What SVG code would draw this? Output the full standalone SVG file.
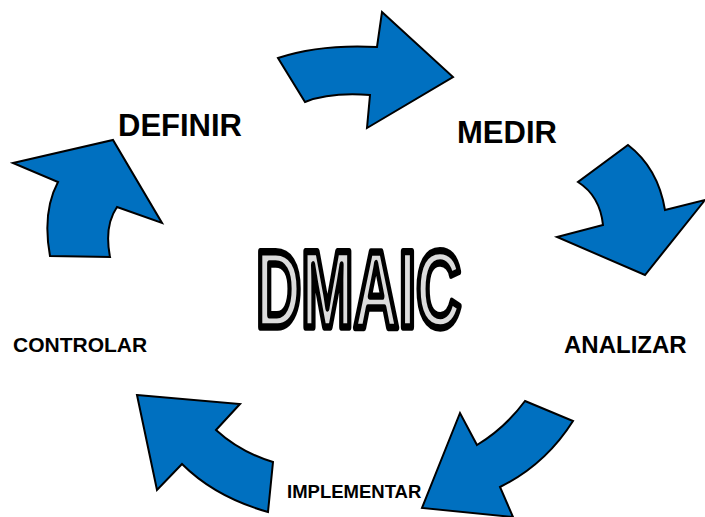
<svg xmlns="http://www.w3.org/2000/svg" width="705" height="517" viewBox="0 0 705 517">
<style>
.arrow{fill:#0070C0;stroke:#000;stroke-width:2;stroke-linejoin:miter}
.lbl{font-family:"Liberation Sans",Arial,sans-serif;font-weight:bold;fill:#000}
.title{font-family:"Liberation Sans",Arial,sans-serif;font-weight:bold;fill:#DCDCDC;stroke:#000;stroke-width:6;stroke-linejoin:round}
</style>
<rect width="705" height="517" fill="#fff"/>
<g id="connectors">
<path id="arrow-medir" class="arrow" d="M278,58 Q320,44 377,47 L382,12 L453,77 L367,128 L370,95 Q330,92 305,102 Z"/>
<path id="arrow-analizar" class="arrow" d="M628,145 Q658,168 665,210 L705,200 L645,275 L557,237 L603,225 Q600,196 578,182 Z"/>
<path id="arrow-implementar" class="arrow" d="M525,401 L573,421 Q545,465 500,487 L513,517 L422,508 L460,413 L477,445 Q505,428 525,401 Z"/>
<path id="arrow-controlar" class="arrow" d="M137,395 L240,404 L216,430 Q240,452 273,462 L268,512 Q215,497 182,464 L157,490 Z"/>
<path id="arrow-definir" class="arrow" d="M13,163 L113,140 L162,223 L117,207 Q104,226 110,257 L50,256 Q42,212 58,182 Z"/>
</g>
<g id="title"><text class="title" transform="translate(256,327) scale(0.575,1)" x="0" y="0" font-size="109" vector-effect="non-scaling-stroke">DMAIC</text></g>
<g id="definir"><text class="lbl" x="118" y="136" font-size="31">DEFINIR</text></g>
<g id="medir"><text class="lbl" x="457" y="143" font-size="31">MEDIR</text></g>
<g id="analizar"><text class="lbl" x="564" y="353" font-size="24">ANALIZAR</text></g>
<g id="implementar"><text class="lbl" x="287" y="498" font-size="18.5">IMPLEMENTAR</text></g>
<g id="controlar"><text class="lbl" x="13" y="352" font-size="21">CONTROLAR</text></g>
</svg>
